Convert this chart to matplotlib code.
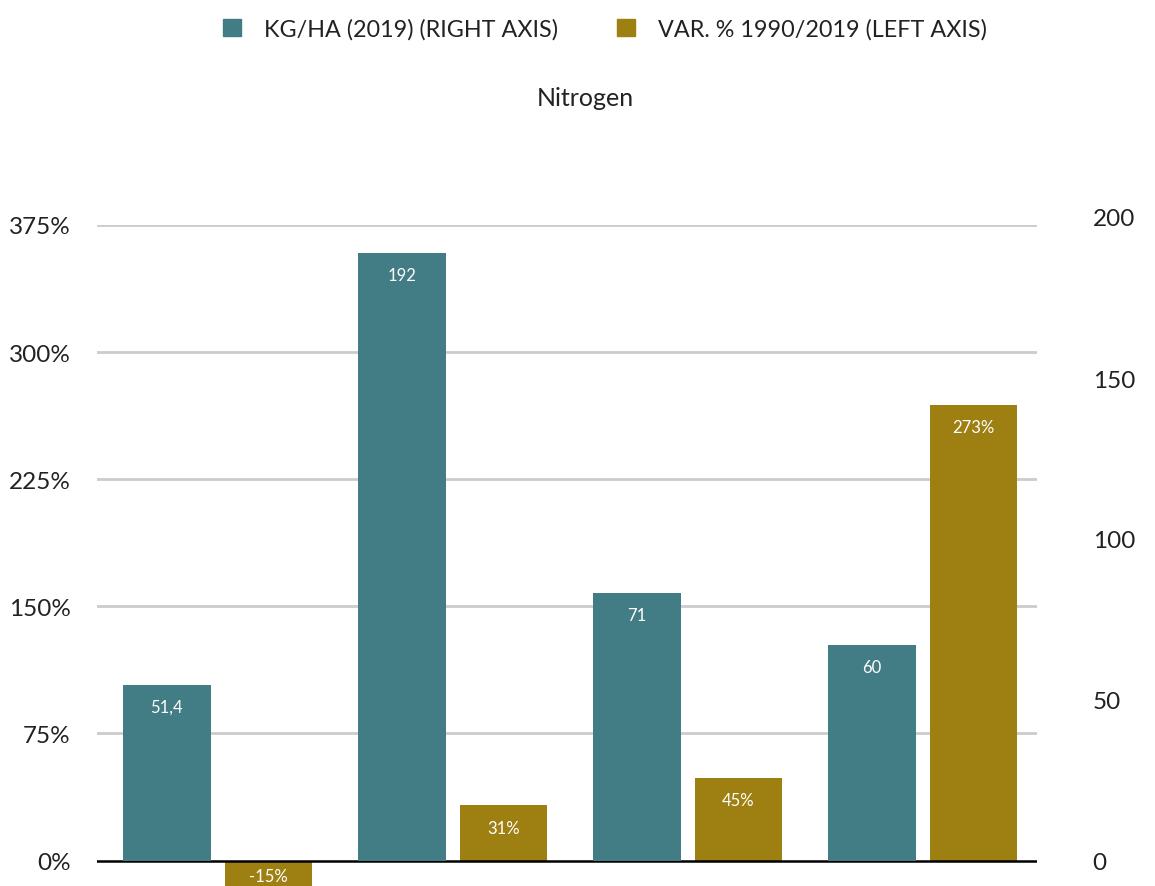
import numpy as np
import matplotlib.pyplot as plt
from matplotlib.patches import Patch

tealcol  = '#427c85'
olivecol = '#9d7f12'
gridcol  = '#cccccc'
textcol  = '#222222'

# values (category names are cut off in the reference)
kg_heights  = [54.7, 188.8, 83.2, 67.1]        # right axis, kg/ha
kg_labels   = ['51,4', '192', '71', '60']
var_heights = [-15, 32.5, 49, 269]              # left axis, %
var_labels  = ['-15%', '31%', '45%', '273%']
left_ticks  = [0, 75, 150, 225, 300, 375]
right_ticks = [0, 50, 100, 150, 200]

plt.rcParams['font.family'] = ['Lato', 'DejaVu Sans']

W, H = 1155, 887
fig = plt.figure(figsize=(W / 100, H / 100), dpi=100)
fig.patch.set_facecolor('white')

x0, x1 = 97 / W, 1037 / W
# left axis: -15% at image bottom, 375% at y=226 px
ax_l = fig.add_axes([x0, 0, x1 - x0, (H - 226) / H])
# right axis: 0 at y=862 px, 200 at y=218 px
px_per_unit = (862 - 218) / 200
r_bottom = -(H - 862) / px_per_unit
ax_r = fig.add_axes([x0, 0, x1 - x0, (H - 218) / H])
ax_r.patch.set_alpha(0)

x = np.arange(len(kg_heights))
w = 0.374
off = 0.217

ax_l.bar(x + off, var_heights, width=w, color=olivecol, zorder=2)
ax_r.bar(x - off, kg_heights, width=w, color=tealcol, zorder=2)

for xi, v, lab in zip(x, var_heights, var_labels):
    if v >= 0:
        ax_l.annotate(lab, (xi + off, v), xytext=(0, -16), textcoords='offset points',
                      ha='center', va='center', color='white', fontsize=12)
    else:
        ax_l.annotate(lab, (xi + off, 0), xytext=(0, -11), textcoords='offset points',
                      ha='center', va='center', color='white', fontsize=12)
for xi, v, lab in zip(x, kg_heights, kg_labels):
    ax_r.annotate(lab, (xi - off, v), xytext=(0, -16), textcoords='offset points',
                  ha='center', va='center', color='white', fontsize=12)

for ax in (ax_l, ax_r):
    ax.set_xlim(-0.513, 3.487)
    ax.set_xticks([])
    for s in ax.spines.values():
        s.set_visible(False)

ax_l.set_ylim(-15, 375)
ax_l.set_yticks(left_ticks)
ax_l.set_yticklabels([f'{t}%' for t in left_ticks])
ax_l.tick_params(axis='y', length=0, pad=19, labelsize=17.5, labelcolor=textcol)
for t in left_ticks[1:]:
    ax_l.axhline(t, color=gridcol, lw=2, zorder=0)
ax_l.axhline(0, color='black', lw=1.8, zorder=3)

ax_r.set_ylim(r_bottom, 200)
ax_r.set_yticks(right_ticks)
ax_r.yaxis.tick_right()
ax_r.tick_params(axis='y', length=0, pad=40, labelsize=17.5, labelcolor=textcol)

handles = [Patch(color=tealcol, label='KG/HA (2019) (RIGHT AXIS)'),
           Patch(color=olivecol, label='VAR. % 1990/2019 (LEFT AXIS)')]
fig.legend(handles=handles, loc='center', bbox_to_anchor=(605 / W, 1 - 30 / H), ncol=2,
           frameon=False, fontsize=16.8, handlelength=0.78, handleheight=0.78,
           handletextpad=1.0, columnspacing=2.5, labelcolor=textcol)
fig.text(585 / W, 1 - 99 / H, 'Nitrogen', ha='center', va='center', fontsize=18, color=textcol)

fig.savefig('out.png', dpi=100, facecolor='white')
